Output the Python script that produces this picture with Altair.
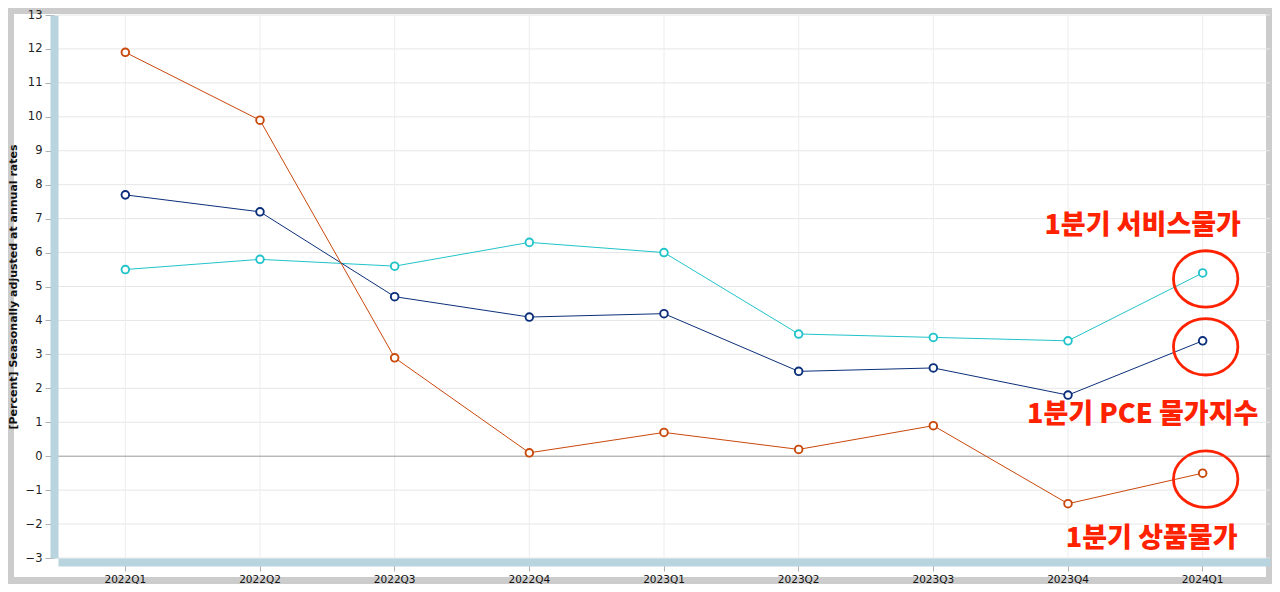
import altair as alt
import pandas as pd

quarters = ["2022Q1", "2022Q2", "2022Q3", "2022Q4", "2023Q1",
            "2023Q2", "2023Q3", "2023Q4", "2024Q1"]
goods = [11.9, 9.9, 2.9, 0.1, 0.7, 0.2, 0.9, -1.4, -0.5]
pce = [7.7, 7.2, 4.7, 4.1, 4.2, 2.5, 2.6, 1.8, 3.4]
services = [5.5, 5.8, 5.6, 6.3, 6.0, 3.6, 3.5, 3.4, 5.4]

series_names = ["Services", "PCE", "Goods"]
series_colors = ["#22c3ca", "#0b2f7a", "#c9480b"]

y_ticks = [-3, -2, -1, 0, 1, 2, 3, 4, 5, 6, 7, 8, 9, 10, 11, 12, 13]

ann_labels = ["1분기 서비스물가", "1분기 PCE 물가지수", "1분기 상품물가"]
ann_y = [6.78, 1.22, -2.44]
ann_dx = [-60, -60, -51]

rows = []
for name, vals in zip(series_names, [services, pce, goods]):
    for q, v in zip(quarters, vals):
        rows.append({"quarter": q, "value": v, "series": name})
df = pd.DataFrame(rows)
last = df[df["quarter"] == quarters[-1]]

W, H = 1212, 543
xs = alt.Scale(domain=quarters, paddingInner=0, paddingOuter=0)
ys = alt.Scale(domain=[-3, 13], nice=False, zero=False)
x_axis = alt.Axis(title=None, labelAngle=0, grid=False, domainWidth=8,
                  domainColor="#b8d4de", offset=4, tickSize=9,
                  tickColor="#b0b0b0", labelPadding=3,
                  labelFont="DejaVu Sans", labelFontSize=10.5,
                  labelColor="#111", zindex=1)
y_axis = alt.Axis(title="[Percent] Seasonally adjusted at annual rates",
                  values=y_ticks, grid=False, domainWidth=8,
                  domainColor="#b8d4de", offset=4, tickSize=9,
                  tickColor="#b0b0b0", labelPadding=3, labelOverlap=False,
                  labelFont="DejaVu Sans", labelFontSize=11.5,
                  labelColor="#222", titleFont="DejaVu Sans",
                  titleFontSize=11, titleFontWeight="bold",
                  titleColor="#111", titleX=-41, titleBaseline="middle",
                  zindex=1)


def XA(f):
    return alt.X(f, scale=xs, sort=quarters, axis=x_axis)


def YA(f):
    return alt.Y(f, scale=ys, axis=y_axis)


base = alt.Chart(df)

panel = base.mark_rect(color="white").encode(
    x=alt.value(-44), x2=alt.value(1208), y=alt.value(-1), y2=alt.value(562))

hgrid = alt.Chart(pd.DataFrame({"value": [t for t in y_ticks if t != 0]})).mark_rule(
    color="#e6e6e6", strokeWidth=1).encode(y=YA("value:Q"))
zero = alt.Chart(pd.DataFrame({"value": [0]})).mark_rule(
    color="#999999", strokeWidth=1).encode(y=YA("value:Q"))
vgrid = alt.Chart(pd.DataFrame({"quarter": quarters})).mark_rule(
    color="#ececec", strokeWidth=1).encode(x=XA("quarter:O"))

color = alt.Color("series:N", scale=alt.Scale(domain=series_names, range=series_colors),
                  legend=None)

lines = base.mark_line(strokeWidth=1).encode(x=XA("quarter:O"), y=YA("value:Q"), color=color)
points = base.mark_point(filled=False, fill="white", size=58, strokeWidth=1.9,
                         opacity=1).encode(x=XA("quarter:O"), y=YA("value:Q"), color=color)

ellipse_path = ("M-1,0 C-1,-0.4833 -0.5523,-0.875 0,-0.875 "
                "C0.5523,-0.875 1,-0.4833 1,0 "
                "C1,0.4833 0.5523,0.875 0,0.875 "
                "C-0.5523,0.875 -1,0.4833 -1,0 Z")
ellipses = alt.Chart(last).mark_point(shape=ellipse_path, size=4150, filled=False,
                                      stroke="#ff2200", strokeWidth=2.8, opacity=1,
                                      xOffset=3, yOffset=6).encode(
    x=XA("quarter:O"), y=YA("value:Q"))

texts = []
for lab, yv, dx in zip(ann_labels, ann_y, ann_dx):
    t = alt.Chart(pd.DataFrame({"quarter": [quarters[-1]], "value": [yv], "label": [lab]})).mark_text(
        font="Noto Sans CJK KR", fontSize=27, fontWeight=900, color="#ff2200",
        align="center", baseline="middle", dx=dx).encode(
        x=XA("quarter:O"), y=YA("value:Q"), text="label:N")
    texts.append(t)

chart = alt.layer(panel, hgrid, vgrid, zero, lines, points, ellipses, *texts).properties(
    width=W, height=H, background="#cccccc",
    autosize=alt.AutoSizeParams(type="none"),
    padding={"left": 50, "top": 7, "right": 2, "bottom": 26},
).configure_view(stroke=None)

chart.save("out.html", embed_options={"renderer": "svg", "actions": False})
